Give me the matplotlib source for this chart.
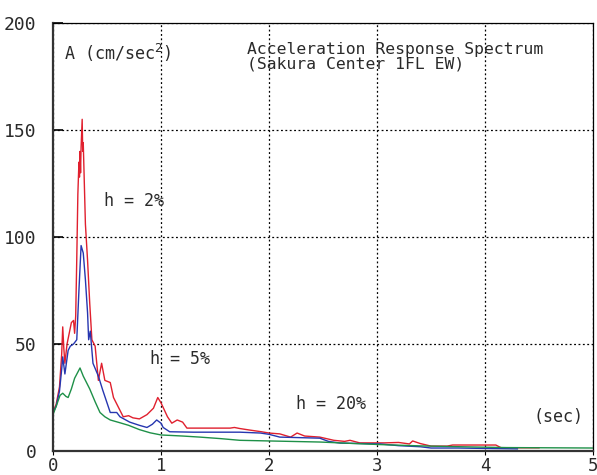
import numpy as np
import matplotlib
matplotlib.use('Agg')
import matplotlib.pyplot as plt

# ── Data ──────────────────────────────────────────────────────────────────────
t_h2 = [0.0, 0.03, 0.06, 0.08, 0.09, 0.10, 0.11, 0.13, 0.15, 0.17, 0.19, 0.20,
        0.21, 0.22, 0.23, 0.24, 0.245, 0.25, 0.255, 0.26, 0.27, 0.275, 0.28,
        0.29, 0.30, 0.32, 0.34, 0.36, 0.39, 0.42, 0.45, 0.48, 0.53, 0.56, 0.60,
        0.65, 0.70, 0.74, 0.80, 0.87, 0.93, 0.97, 1.00, 1.06, 1.10, 1.15, 1.20,
        1.24, 1.40, 1.64, 1.68, 1.73, 1.82, 1.93, 2.00, 2.10, 2.20, 2.26, 2.33,
        2.47, 2.60, 2.70, 2.75, 2.84, 3.07, 3.20, 3.30, 3.33, 3.40, 3.50, 3.65,
        3.70, 4.10, 4.15, 4.50]
a_h2 = [18, 22, 30, 45, 58, 48, 41, 50, 55, 60, 61, 55,
        63, 90, 120, 135, 128, 140, 130, 142, 155, 140, 144,
        125, 106, 89, 69, 52, 49, 33, 41, 33, 32, 25, 21,
        16, 16.5, 15.5, 15, 17, 20, 25, 22.5, 16, 13, 14.5, 13.5,
        10.7, 10.7, 10.7, 11, 10.5, 9.8, 9, 8.4, 8, 6.5, 8.4, 7,
        6.5, 5, 4.5, 5, 3.8, 3.8, 4, 3.3, 4.7, 3.5, 2.3, 2.3,
        2.8, 2.8, 1.5, 1.5]

t_h5 = [0.0, 0.03, 0.06, 0.08, 0.09, 0.11, 0.14, 0.16, 0.19, 0.22, 0.24, 0.26,
        0.28, 0.30, 0.32, 0.33, 0.345, 0.37, 0.42, 0.46, 0.50, 0.53, 0.59, 0.62,
        0.71, 0.80, 0.87, 0.92, 0.96, 1.00, 1.02, 1.08, 1.30, 1.50, 1.73, 1.92,
        2.00, 2.10, 2.47, 2.55, 2.66, 3.03, 3.20, 3.40, 3.50, 3.75, 4.00, 4.30]
a_h5 = [18, 21, 28, 38, 44, 36, 47, 49, 50, 52, 75, 96,
        92.5, 80, 64.5, 52, 56, 41, 35, 28.5, 22.5, 18, 18, 16,
        13.5, 12, 11, 12.5, 14.5, 13, 11, 9, 8.8, 8.8, 8.8, 8.4,
        7.8, 6.5, 6, 4.5, 3.7, 3.3, 2.5, 2, 1.4, 1.4, 1.2, 1.0]

t_h20 = [0.0, 0.03, 0.065, 0.09, 0.12, 0.14, 0.17, 0.20, 0.25, 0.28, 0.34,
         0.39, 0.435, 0.48, 0.53, 0.62, 0.70, 0.80, 0.90, 1.00, 1.20, 1.36,
         1.55, 1.73, 2.00, 2.47, 2.70, 3.03, 3.40, 3.77, 4.20, 5.00]
a_h20 = [17, 21, 26, 27, 25.5, 25, 29, 34, 38.8, 35, 29,
         23, 18, 16, 14.5, 13.2, 12, 10, 8.5, 7.5, 7, 6.5,
         5.8, 5, 4.7, 4.2, 3.7, 3.0, 2.4, 2.0, 1.6, 1.4]

x_ticks = [0, 1, 2, 3, 4, 5]
y_ticks = [0, 50, 100, 150, 200]

FONT = 'DejaVu Sans Mono'
TXT = '#2a2a2a'

# ── Figure ───────────────────────────────────────────────────────────────────
fig = plt.figure(figsize=(5.97, 4.75), dpi=100)
ax = fig.add_axes([0.0888, 0.0505, 0.9045, 0.9011])

ax.plot(t_h2, a_h2, color='#e0202e', lw=1.0)
ax.plot(t_h5, a_h5, color='#2636b0', lw=1.0)
ax.plot(t_h20, a_h20, color='#1e9048', lw=1.0)

ax.set_xlim(0, 5)
ax.set_ylim(0, 200)
ax.set_xticks(x_ticks)
ax.set_yticks(y_ticks)
ax.set_xticklabels([str(v) for v in x_ticks], family=FONT, fontsize=12.5, color=TXT)
ax.set_yticklabels([str(v) for v in y_ticks], family=FONT, fontsize=13, color=TXT)
ax.tick_params(axis='y', direction='in', length=7, width=1.2, pad=12)
ax.tick_params(axis='x', direction='out', length=3, width=0.8, pad=1)

ax.grid(True, color='black', linestyle=(0, (1.5, 2)), linewidth=0.9)

for side in ['left', 'bottom']:
    ax.spines[side].set_linewidth(1.6)
    ax.spines[side].set_color('#333333')
for side in ['top', 'right']:
    ax.spines[side].set_linewidth(0.9)
    ax.spines[side].set_color('black')

# Texts
ax.text(0.02, 0.955, 'A (cm/sec$^2$)', transform=ax.transAxes, family=FONT,
        fontsize=12, color=TXT, va='top', ha='left')
ax.text(0.36, 0.955, 'Acceleration Response Spectrum\n(Sakura Center 1FL EW)',
        transform=ax.transAxes, family=FONT, fontsize=11.8, color=TXT,
        va='top', ha='left', linespacing=0.95)
ax.text(0.47, 117, 'h = 2%', family=FONT, fontsize=12, color=TXT, va='center')
ax.text(0.90, 43, 'h = 5%', family=FONT, fontsize=12, color=TXT, va='center')
ax.text(2.25, 22, 'h = 20%', family=FONT, fontsize=12, color=TXT, va='center')
ax.text(4.45, 16, '(sec)', family=FONT, fontsize=12, color=TXT, va='center')

plt.savefig('out.png', dpi=100)
